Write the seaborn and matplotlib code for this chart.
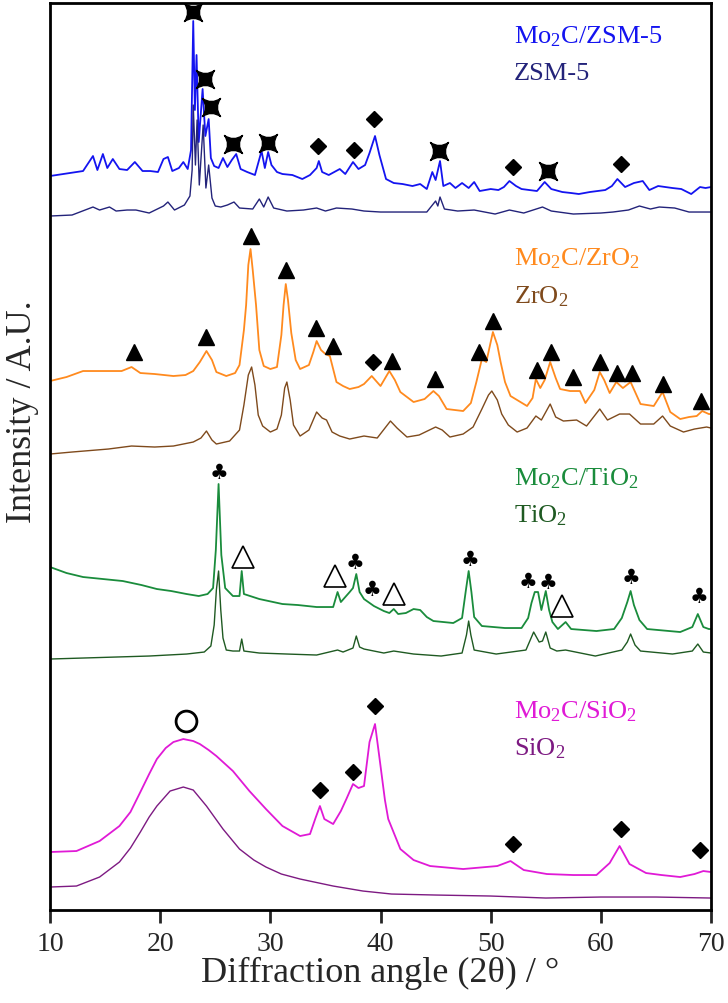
import numpy as np
import pandas as pd
import matplotlib
matplotlib.use("Agg")
import matplotlib.pyplot as plt
from matplotlib.path import Path
import seaborn as sns

# ---- traces: 2theta (deg) and stacked intensity (a.u., offset already included)
zsm_mo_x = [10, 13, 13.9, 14.3, 14.8, 15.2, 15.7, 16.3, 17.0, 17.7, 18.4, 19.1, 19.8, 20.3, 20.7, 21.1,
            21.7, 22.1, 22.5, 22.8, 23.0, 23.15, 23.3, 23.5, 23.85, 24.1, 24.4, 24.6, 24.9, 25.3, 25.7,
            26.1, 26.5, 26.9, 27.3, 27.9, 28.6, 29.2, 29.5, 29.8, 30.1, 30.6, 31.1, 32.0, 32.9, 33.6,
            34.2, 34.4, 34.7, 35.3, 36.3, 36.8, 37.5, 38.0, 38.6, 39.0, 39.5, 39.9, 40.5, 41.2, 42.0,
            42.9, 43.6, 44.2, 44.7, 45.0, 45.4, 45.7, 46.3, 46.8, 47.4, 48.0, 48.5, 49.0, 50.0, 50.7,
            51.2, 51.7, 52.3, 52.8, 53.5, 54.2, 54.9, 55.5, 56.5, 57.3, 58.0, 59.0, 60.4, 61.0, 61.5,
            62.2, 63.0, 63.8, 64.4, 65.2, 66.5, 67.3, 68.2, 69.0, 69.5, 70]
zsm_mo_y = [734, 739, 754, 740, 756, 742, 751, 741, 740, 748, 739, 739, 738, 751, 753, 739,
            742, 748, 741, 760, 889, 800, 855, 768, 821, 774, 791, 752, 744, 742, 752,
            743, 750, 756, 741, 738, 735, 759, 742, 758, 745, 738, 736, 735, 731, 735,
            742, 749, 738, 735, 741, 736, 748, 741, 745, 757, 774, 755, 731, 727, 726,
            724, 726, 721, 738, 730, 749, 724, 727, 722, 727, 722, 728, 719, 721, 720,
            723, 729, 724, 721, 720, 719, 728, 721, 718, 717, 716, 718, 720, 724, 731,
            723, 727, 729, 720, 724, 722, 721, 716, 723, 722, 723]

zsm_x = [10, 12, 13.9, 14.5, 15.4, 16.0, 17.0, 17.8, 19.0, 20.3, 20.7, 21.3, 22.2, 22.7, 22.9, 23.0,
         23.2, 23.35, 23.55, 23.9, 24.15, 24.4, 24.7, 25.0, 25.5, 26.1, 26.7, 27.2, 28.4, 29.0, 29.4,
         29.8, 30.3, 31.5, 33.0, 34.2, 35.0, 36.0, 37.4, 38.5, 40, 42, 44.2, 45.0, 45.2, 45.4, 45.8,
         47.0, 48.5, 50.4, 51.7, 53.0, 54.7, 55.5, 57.5, 60.0, 61.1, 62.5, 63.5, 64.5, 65.3, 66.7,
         68.0, 70]
zsm_y = [694, 695, 703, 700, 703, 699, 700, 700, 697, 704, 708, 700, 705, 714, 740, 805,
         745, 790, 725, 785, 722, 745, 712, 704, 703, 705, 708, 702, 701, 711, 703,
         713, 702, 699, 700, 702, 699, 702, 701, 699, 698, 698, 698, 709, 704, 713, 701,
         699, 700, 696, 700, 697, 703, 699, 696, 697, 698, 700, 704, 701, 703, 702,
         698, 698]

zro_mo_x = [10, 11.5, 13, 15.1, 16.5, 17.4, 18.2, 19.5, 21.2, 22.3, 23.0, 23.6, 24.2, 24.7, 25.1, 26.0,
            26.8, 27.2, 27.6, 27.8, 28.0, 28.2, 28.4, 28.7, 29.0, 29.4, 30.0, 30.6, 31.0, 31.2, 31.4,
            31.6, 31.9, 32.3, 32.7, 33.5, 33.9, 34.2, 34.6, 35.0, 35.4, 36.0, 36.6, 37.2, 38.0, 38.5,
            39.2, 39.6, 40.0, 40.8, 41.3, 41.8, 43.0, 44.0, 44.8, 45.3, 46.0, 47.5, 48.2, 48.7, 49.2,
            49.6, 50.2, 50.6, 50.9, 51.3, 51.8, 53.3, 53.8, 54.1, 54.5, 54.9, 55.4, 55.9, 56.3, 57.2,
            58.1, 58.6, 59.4, 59.9, 60.3, 60.8, 61.4, 62.0, 62.7, 63.6, 64.8, 65.6, 66.3, 67.2, 68.0,
            68.7, 69.2, 69.8, 70]
zro_mo_y = [529, 533, 539, 539, 539, 543, 537, 536, 534, 535, 539, 548, 559, 550, 538, 534,
            537, 545, 580, 605, 645, 661, 640, 605, 560, 544, 541, 543, 575, 605, 626,
            610, 577, 550, 541, 545, 558, 569, 560, 556, 554, 528, 524, 521, 523, 526,
            534, 529, 524, 539, 530, 518, 508, 511, 519, 514, 501, 499, 507, 528, 551,
            548, 578, 565, 548, 528, 514, 504, 512, 531, 522, 530, 548, 532, 521, 519,
            519, 507, 520, 538, 530, 517, 528, 522, 528, 506, 504, 518, 498, 491, 493,
            494, 499, 496, 496]

zro_x = [10, 12, 15.3, 17.4, 19.5, 21.2, 23.0, 23.7, 24.2, 24.7, 25.1, 26.3, 27.2, 27.6, 28.0, 28.3,
         28.6, 28.9, 29.3, 30.0, 30.6, 31.0, 31.3, 31.5, 31.8, 32.1, 32.7, 33.5, 34.2, 34.7, 35.1,
         35.6, 36.3, 37.2, 38.5, 39.7, 40.9, 41.5, 42.4, 43.5, 45.0, 45.6, 46.3, 47.5, 48.4, 49.2,
         49.8, 50.1, 50.6, 51.0, 51.6, 52.4, 53.3, 54.1, 54.6, 55.4, 55.9, 56.6, 57.8, 58.7, 59.9,
         60.6, 61.7, 62.6, 63.6, 64.8, 65.6, 66.3, 67.5, 68.5, 69.6, 70]
zro_y = [456, 458, 461, 464, 463, 464, 468, 472, 479, 470, 466, 469, 480, 505, 535, 543,
         525, 495, 484, 478, 481, 495, 522, 528, 510, 485, 474, 480, 498, 492, 490,
         478, 474, 471, 474, 472, 489, 482, 473, 475, 483, 480, 473, 476, 483, 501,
         515, 519, 510, 496, 485, 478, 482, 494, 490, 506, 493, 489, 490, 484, 501,
         490, 496, 496, 486, 486, 494, 484, 478, 481, 483, 482]

tio_mo_x = [10, 11.5, 13, 14.8, 16.6, 18.3, 19.7, 21.0, 22.4, 23.5, 24.3, 24.8, 25.05, 25.3, 25.55,
            25.9, 26.6, 27.2, 27.4, 27.6, 29.0, 31.1, 32.5, 34.2, 35.7, 36.1, 36.4, 37.2, 37.5, 37.8,
            38.1, 38.5, 39.4, 40.3, 40.8, 41.2, 41.6, 42.3, 43.0, 43.6, 44.2, 44.8, 46.6, 47.4, 47.75,
            48.0, 48.25, 48.5, 49.2, 51.3, 52.8, 53.4, 53.7, 54.0, 54.3, 54.6, 55.0, 55.3, 55.6, 56.1,
            56.8, 57.3, 59.6, 61.2, 61.9, 62.4, 62.7, 63.0, 63.5, 64.2, 67.2, 68.3, 68.8, 69.3, 69.8, 70]
tio_mo_y = [343, 337, 333, 331, 329, 325, 321, 319, 316, 314, 316, 322, 360, 426, 355,
            322, 314, 314, 339, 316, 311, 306, 305, 303, 303, 318, 308, 318, 322, 336,
            318, 311, 304, 299, 297, 301, 296, 297, 301, 300, 293, 289, 287, 292, 320,
            339, 318, 293, 284, 282, 282, 292, 307, 318, 318, 300, 319, 300, 288, 281,
            288, 281, 279, 281, 292, 308, 319, 305, 290, 281, 278, 283, 296, 283, 281, 281]

tio_x = [10, 13, 16, 19, 22.4, 24.0, 24.6, 24.9, 25.1, 25.3, 25.5, 25.7, 26.0, 26.6, 27.2, 27.4, 27.6,
         29.0, 31.5, 34.2, 36.1, 36.6, 37.5, 37.8, 38.1, 38.5, 40.3, 41.2, 43.0, 45.5, 47.4, 47.8,
         48.0, 48.2, 48.5, 50.5, 53.2, 53.9, 54.4, 54.7, 55.0, 55.4, 56.0, 56.8, 59.5, 61.9, 62.4,
         62.7, 63.1, 63.6, 66.5, 68.3, 68.8, 69.3, 70]
tio_y = [251, 252, 253, 254, 256, 258, 264, 285, 320, 339, 300, 272, 260, 259, 259, 271, 259,
         257, 256, 255, 260, 258, 262, 274, 263, 261, 257, 259, 256, 254, 257, 275,
         289, 275, 260, 256, 260, 278, 268, 269, 278, 262, 259, 260, 254, 260, 268,
         276, 265, 259, 256, 259, 266, 258, 257]

sio_mo_x = [10, 12.4, 14.5, 16.3, 17.3, 18.2, 19.0, 19.7, 20.5, 21.2, 22.1, 23.0, 23.6, 24.4, 25.1,
            26.6, 28.1, 29.6, 31.1, 32.7, 33.6, 34.1, 34.5, 34.9, 35.7, 36.4, 36.9, 37.5, 38.0, 38.5,
            39.0, 39.5, 40.0, 40.4, 40.7, 41.8, 43.0, 44.5, 47.5, 50.6, 51.8, 53.0, 55.1, 57.5, 59.6,
            60.8, 61.7, 62.6, 64.1, 65.5, 67.2, 68.5, 69.3, 70]
sio_mo_y = [58, 59, 69, 84, 98, 118, 136, 151, 162, 168, 171, 169, 166, 160, 154,
            139, 119, 101, 84, 74, 76, 92, 104, 91, 86, 99, 111, 126, 122, 124,
            168, 186, 144, 110, 91, 61, 50, 44, 41, 44, 49, 40, 36, 35, 35,
            47, 64, 46, 37, 35, 33, 36, 39, 38]

sio_x = [10, 12.4, 14.5, 16.3, 17.3, 18.2, 19.0, 19.7, 20.9, 22.1, 23.0, 24.2, 25.7, 27.2, 28.5,
         29.6, 31.0, 32.7, 35.7, 38.4, 41, 45, 50, 55, 60, 65, 70]
sio_y = [23, 24, 33, 48, 62, 78, 93, 104, 119, 123, 120, 104, 81, 61, 50,
         43, 36, 31, 24, 19, 16, 15, 14, 12, 13, 13, 12]

# ---- peak markers (2theta, height)
zsm_mark_x = [23.0, 24.1, 24.6, 26.6, 29.8, 45.3, 55.2]
zsm_mark_y = [898, 831, 803, 766, 767, 759, 739]
mo2c_mark_x = [34.3, 37.6, 39.4, 52.0, 61.8, 39.3, 34.5, 37.5, 39.5, 52.0, 61.8, 69.0]
mo2c_mark_y = [764, 760, 791, 743, 746, 548, 120, 138, 204, 66, 81, 60]
zro_mark_x = [17.6, 24.2, 28.2, 31.4, 34.1, 35.7, 41.0, 44.9, 48.9, 50.2, 54.2, 55.5, 57.5, 59.9,
              61.5, 62.8, 65.6, 69.1]
zro_mark_y = [558, 573, 674, 640, 582, 564, 549, 531, 558, 589, 540, 558, 533, 548,
              537, 537, 526, 509]
anatase_x = [25.3, 37.7, 39.2, 48.1, 53.4, 55.2, 62.7, 68.9]
anatase_y = [438, 348, 321, 351, 329, 328, 333, 314]
rutile_x = [27.5, 35.9, 41.2, 56.5]
rutile_y = [353, 334, 316, 304]
silica_x = [22.3]
silica_y = [189]

# ---- labels
labels = ["Mo$_\\mathrm{2}$C/ZSM-5", "ZSM-5", "Mo$_\\mathrm{2}$C/ZrO$_\\mathrm{2}$", "ZrO$_\\mathrm{2}$",
          "Mo$_\\mathrm{2}$C/TiO$_\\mathrm{2}$", "TiO$_\\mathrm{2}$", "Mo$_\\mathrm{2}$C/SiO$_\\mathrm{2}$",
          "SiO$_\\mathrm{2}$"]
label_y = [868, 831, 646, 608, 426, 389, 193, 156]
colors = ["#1414f0", "#23237a", "#ff8a1e", "#7f4a1c", "#1a8c3c", "#1f5a22", "#e01ad6", "#7d1a82"]

traces = [(zsm_mo_x, zsm_mo_y), (zsm_x, zsm_y), (zro_mo_x, zro_mo_y), (zro_x, zro_y),
          (tio_mo_x, tio_mo_y), (tio_x, tio_y), (sio_mo_x, sio_mo_y), (sio_x, sio_y)]
widths = [1.3, 1.0, 1.3, 1.0, 1.3, 1.0, 1.3, 1.0]

sns.set_theme(style="white")
plt.rcParams['font.family'] = ['Liberation Serif', 'DejaVu Sans']
plt.rcParams['mathtext.fontset'] = 'custom'
plt.rcParams['mathtext.rm'] = 'Liberation Serif'
plt.rcParams['mathtext.it'] = 'Liberation Serif:italic'

fig = plt.figure(figsize=(7.28, 10.04), dpi=100)
ax = fig.add_axes([0.0687, 0.0926, 0.9080, 0.9034])

for (tx, ty), c, w in zip(traces, colors, widths):
    df = pd.DataFrame({"two_theta": tx, "intensity": ty})
    sns.lineplot(data=df, x="two_theta", y="intensity", color=c, lw=w,
                 estimator=None, sort=False, ax=ax)

# concave four-point star for ZSM-5
star = Path([(-1, 1), (0, 0.3), (1, 1), (0.3, 0), (1, -1), (0, -0.3), (-1, -1), (-0.3, 0), (-1, 1), (-1, 1)],
            [Path.MOVETO, Path.CURVE3, Path.CURVE3, Path.CURVE3, Path.CURVE3,
             Path.CURVE3, Path.CURVE3, Path.CURVE3, Path.CURVE3, Path.CLOSEPOLY])
ax.plot(zsm_mark_x, zsm_mark_y, ls='none', marker=star, ms=13, mfc='black', mec='black')
ax.plot(mo2c_mark_x, mo2c_mark_y, ls='none', marker='D', ms=8.5, mfc='black', mec='black')
ax.plot(zro_mark_x, zro_mark_y, ls='none', marker='^', ms=11, mfc='black', mec='black')
ax.plot(rutile_x, rutile_y, ls='none', marker='^', ms=16, mfc='white', mec='black', mew=1.2)
ax.plot(silica_x, silica_y, ls='none', marker='o', ms=15, mfc='none', mec='black', mew=2)
for x, y in zip(anatase_x, anatase_y):
    ax.text(x, y, '\u2663', fontsize=15, ha='center', va='center', color='black', family='DejaVu Sans')

for lab, y, c in zip(labels, label_y, colors):
    ax.text(52.1, y, lab, fontsize=19, color=c, ha='left', va='baseline')

ax.set_xlim(10, 70)
ax.set_ylim(0, 907)
ax.set_xticks([10, 20, 30, 40, 50, 60, 70])
ax.set_yticks([])
ax.tick_params(axis='x', direction='out', length=9, width=2, labelsize=20, pad=6, bottom=True)
for s in ax.spines.values():
    s.set_linewidth(2)
    s.set_color('black')
ax.set_xlabel("Diffraction angle (2\u03b8) / \u00b0", fontsize=26, labelpad=0)
ax.set_ylabel("Intensity / A.U.", fontsize=26)
ax.yaxis.set_label_coords(-0.016, 0.55)

fig.savefig("out.png", dpi=100)
